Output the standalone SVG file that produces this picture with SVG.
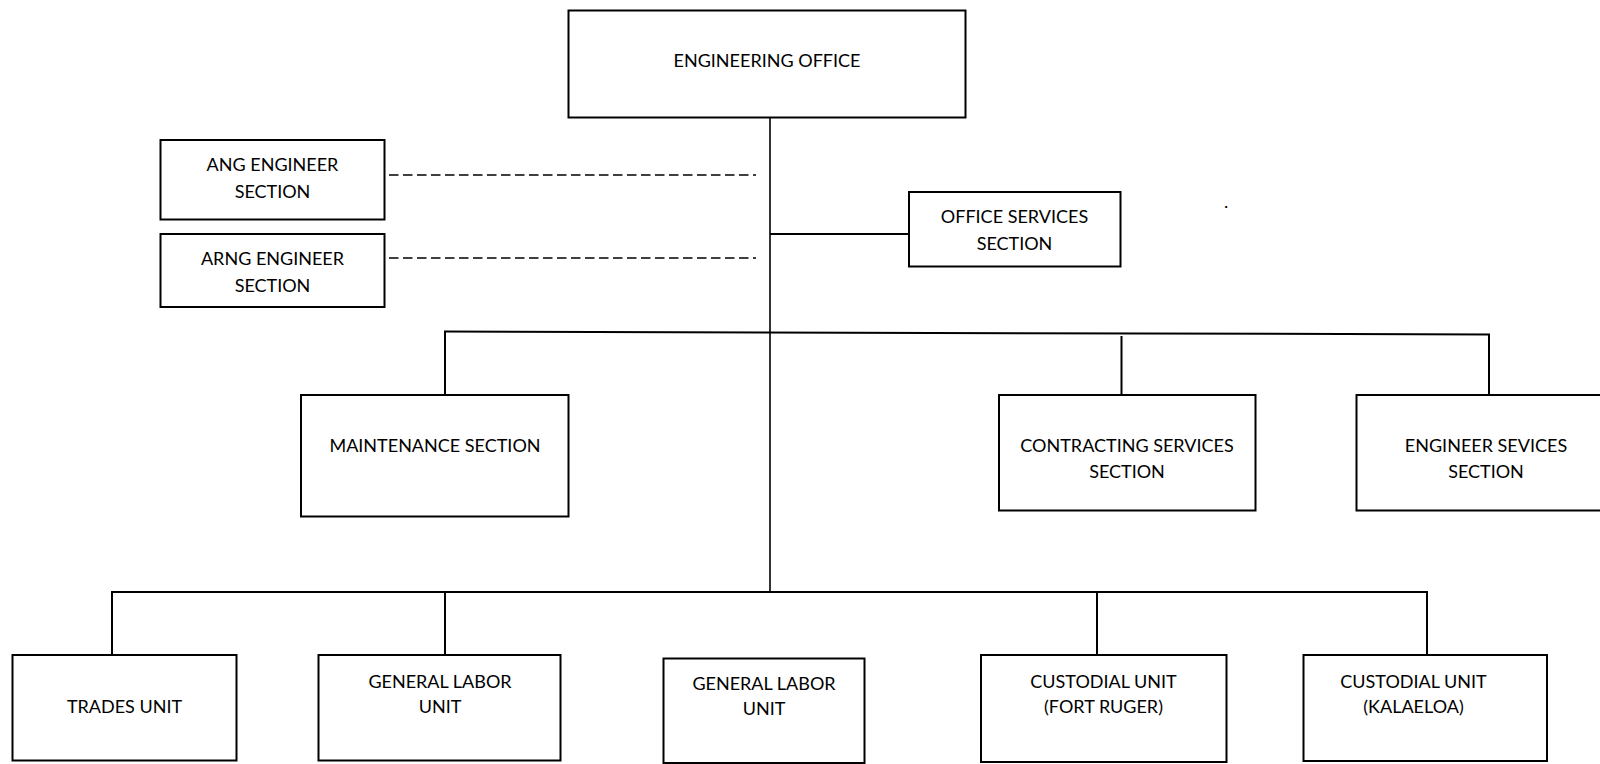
<svg xmlns="http://www.w3.org/2000/svg" width="1600" height="764" viewBox="0 0 1600 764">
  <style>
    .box { fill: #ffffff; stroke: #000000; stroke-width: 2; }
    .line { fill: none; stroke: #000000; stroke-width: 2; }
    .dash { fill: none; stroke: #000000; stroke-width: 1.5; stroke-dasharray: 9.5 4.5; }
    .label { font-family: "Lato", "Liberation Sans", sans-serif; font-size: 18px; fill: #000000; text-anchor: middle; }
  </style>
  <rect x="0" y="0" width="1600" height="764" fill="#ffffff"/>

  <!-- connectors -->
  <g id="connectors">
    <!-- main spine -->
    <line class="line" x1="770" y1="117" x2="770" y2="592" style="stroke-width:1.6"/>
    <!-- advisory (dashed) links -->
    <line class="dash" x1="389" y1="175" x2="756" y2="175"/>
    <line class="dash" x1="389" y1="258" x2="756" y2="258"/>
    <!-- office services branch -->
    <line class="line" x1="770" y1="234" x2="909" y2="234"/>
    <!-- section bus -->
    <line class="line" x1="444" y1="331.5" x2="1490" y2="334.5"/>
    <line class="line" x1="445" y1="331.5" x2="445" y2="401"/>
    <line class="line" x1="1121.5" y1="336" x2="1121.5" y2="395"/>
    <line class="line" x1="1489" y1="334" x2="1489" y2="395"/>
    <!-- unit bus -->
    <line class="line" x1="111" y1="592" x2="1428" y2="592"/>
    <line class="line" x1="112" y1="591" x2="112" y2="655"/>
    <line class="line" x1="445" y1="592" x2="445" y2="655"/>
    <line class="line" x1="1097" y1="592" x2="1097" y2="655"/>
    <line class="line" x1="1427" y1="591" x2="1427" y2="655"/>
  </g>

  <g id="engineering-office">
    <rect class="box" x="568.5" y="10.5" width="397" height="107"/>
    <text class="label" x="767" y="66.5">ENGINEERING OFFICE</text>
  </g>

  <g id="ang-engineer-section">
    <rect class="box" x="160.5" y="140" width="224" height="79.5"/>
    <text class="label" x="272.5" y="171">ANG ENGINEER</text>
    <text class="label" x="272.5" y="197.5">SECTION</text>
  </g>

  <g id="arng-engineer-section">
    <rect class="box" x="160.5" y="234" width="224" height="73"/>
    <text class="label" x="272.5" y="265">ARNG ENGINEER</text>
    <text class="label" x="272.5" y="291.5">SECTION</text>
  </g>

  <g id="office-services-section">
    <rect class="box" x="909" y="192" width="211.5" height="74.5"/>
    <text class="label" x="1014.5" y="223">OFFICE SERVICES</text>
    <text class="label" x="1014.5" y="249.5">SECTION</text>
  </g>

  <text class="label" x="1226" y="208">.</text>

  <g id="maintenance-section">
    <rect class="box" x="301" y="395" width="267.5" height="121.5"/>
    <text class="label" x="435" y="451.5">MAINTENANCE SECTION</text>
  </g>

  <g id="contracting-services-section">
    <rect class="box" x="999" y="395" width="256.5" height="115.5"/>
    <text class="label" x="1127" y="451.5">CONTRACTING SERVICES</text>
    <text class="label" x="1127" y="478">SECTION</text>
  </g>

  <g id="engineer-sevices-section">
    <rect class="box" x="1356.5" y="395" width="250" height="115.5"/>
    <text class="label" x="1486" y="451.5">ENGINEER SEVICES</text>
    <text class="label" x="1486" y="478">SECTION</text>
  </g>

  <g id="trades-unit">
    <rect class="box" x="12.5" y="655" width="224" height="105.5"/>
    <text class="label" x="124.5" y="713">TRADES UNIT</text>
  </g>

  <g id="general-labor-unit-1">
    <rect class="box" x="318.5" y="655" width="242" height="105.5"/>
    <text class="label" x="440" y="687.5">GENERAL LABOR</text>
    <text class="label" x="440" y="713">UNIT</text>
  </g>

  <g id="general-labor-unit-2">
    <rect class="box" x="663.5" y="658.5" width="201" height="104.5"/>
    <text class="label" x="764" y="689.5">GENERAL LABOR</text>
    <text class="label" x="764" y="715">UNIT</text>
  </g>

  <g id="custodial-unit-fort-ruger">
    <rect class="box" x="981" y="655" width="245.5" height="107"/>
    <text class="label" x="1103.5" y="687.5">CUSTODIAL UNIT</text>
    <text class="label" x="1103.5" y="713">(FORT RUGER)</text>
  </g>

  <g id="custodial-unit-kalaeloa">
    <rect class="box" x="1303.5" y="655" width="243.5" height="106"/>
    <text class="label" x="1413.5" y="687.5">CUSTODIAL UNIT</text>
    <text class="label" x="1413.5" y="713">(KALAELOA)</text>
  </g>
</svg>
